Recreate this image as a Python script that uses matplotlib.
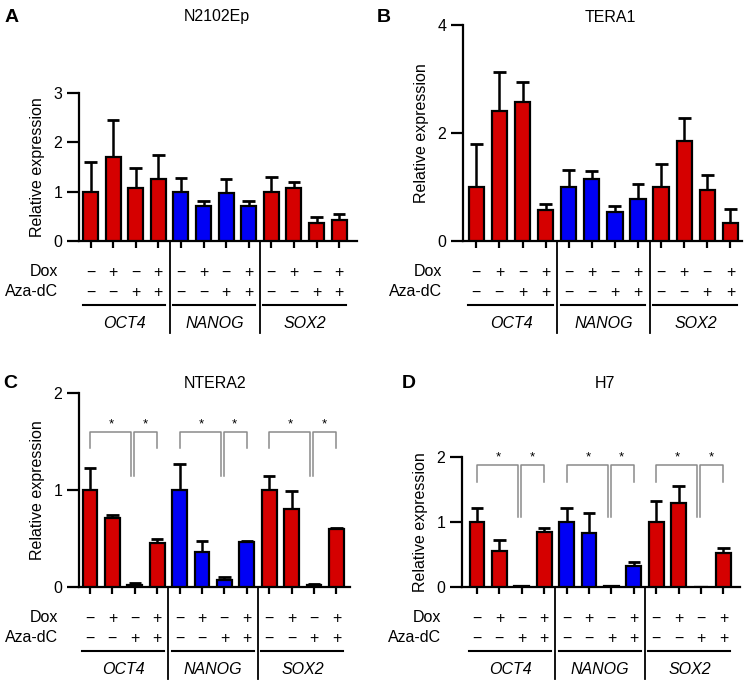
import matplotlib
matplotlib.use("Agg")
import matplotlib.pyplot as plt
from matplotlib.transforms import blended_transform_factory

plt.rcParams['font.family'] = ['Liberation Sans', 'DejaVu Sans']

W, H = 744, 680

# ---- data ----
genes = ["OCT4", "NANOG", "SOX2"]
dox_signs = ["\u2212", "+", "\u2212", "+"]
aza_signs = ["\u2212", "\u2212", "+", "+"]

a_mean = [1.0, 1.71, 1.07, 1.25, 1.0, 0.70, 0.97, 0.70, 1.0, 1.07, 0.37, 0.42]
a_err = [0.60, 0.74, 0.40, 0.49, 0.27, 0.12, 0.28, 0.12, 0.29, 0.13, 0.11, 0.13]

b_mean = [1.0, 2.40, 2.58, 0.57, 1.0, 1.14, 0.53, 0.77, 1.0, 1.85, 0.95, 0.33]
b_err = [0.79, 0.73, 0.37, 0.11, 0.31, 0.16, 0.12, 0.28, 0.43, 0.42, 0.28, 0.26]

c_mean = [1.0, 0.71, 0.025, 0.45, 1.0, 0.36, 0.075, 0.46, 1.0, 0.80, 0.02, 0.60]
c_err = [0.23, 0.03, 0.015, 0.04, 0.27, 0.11, 0.025, 0.01, 0.14, 0.19, 0.015, 0.01]

d_mean = [1.0, 0.56, 0.01, 0.84, 1.0, 0.83, 0.015, 0.32, 1.0, 1.29, 0.004, 0.53]
d_err = [0.22, 0.17, 0.0, 0.07, 0.22, 0.31, 0.005, 0.06, 0.32, 0.27, 0.0, 0.07]

RED = "#d50000"
BLUE = "#0000f5"
GRAY = "#8a8a8a"
gene_colors = [RED, BLUE, RED]

# panel layout in pixels: left, top, right, bottom, first bar centre, bar spacing
panels = [
    dict(tag="A", title="N2102Ep", mean=a_mean, err=a_err, ymax=3, yticks=[0, 1, 2, 3],
         box=(79, 93, 357, 241), c0=90.5, sp=22.6, label_xy=(5, 17), title_xy=(217, 17), brackets=None),
    dict(tag="B", title="TERA1", mean=b_mean, err=b_err, ymax=4, yticks=[0, 2, 4],
         box=(463, 25, 742, 241), c0=476.3, sp=23.1, label_xy=(377, 17), title_xy=(610, 17), brackets=None),
    dict(tag="C", title="NTERA2", mean=c_mean, err=c_err, ymax=2, yticks=[0, 1, 2],
         box=(79, 393, 350, 587), c0=90, sp=22.4, label_xy=(3, 383), title_xy=(215, 383),
         brackets=(1.60, 1.43, 1.14, 1.68)),
    dict(tag="D", title="H7", mean=d_mean, err=d_err, ymax=2, yticks=[0, 1, 2],
         box=(462, 457, 740, 587), c0=477, sp=22.4, label_xy=(402, 383), title_xy=(605, 383),
         brackets=(1.87, 1.62, 1.07, 2.0)),
]

fig = plt.figure(figsize=(W / 100, H / 100), dpi=100)
FS = 11.5


def fy(py):
    return 1 - py / H


for p in panels:
    left, top, right, bottom = p["box"]
    ax = fig.add_axes([left / W, fy(bottom), (right - left) / W, (bottom - top) / H])
    n = len(p["mean"])
    x = list(range(n))
    colors = [gene_colors[i // 4] for i in x]

    ax.bar(x, p["mean"], width=0.66, color=colors, edgecolor="black", linewidth=1.6, zorder=3)
    tops = [m + e for m, e in zip(p["mean"], p["err"])]
    ax.vlines(x, p["mean"], tops, color="black", linewidth=1.8, zorder=2)
    ax.hlines(tops, [i - 0.28 for i in x], [i + 0.28 for i in x], color="black", linewidth=2.0, zorder=2)

    ax.set_xlim((left - p["c0"]) / p["sp"], (right - p["c0"]) / p["sp"])
    ax.set_ylim(0, p["ymax"])
    ax.set_yticks(p["yticks"])
    ax.set_xticks(x)
    ax.set_xticklabels([])
    for s in ["top", "right"]:
        ax.spines[s].set_visible(False)
    for s in ["left", "bottom"]:
        ax.spines[s].set_linewidth(1.6)
    ax.tick_params(axis="y", length=8.6, width=1.6, labelsize=FS, pad=3.5)
    ax.tick_params(axis="x", length=5, width=1.6)
    ax.set_ylabel("Relative expression", fontsize=FS, labelpad=6)

    # condition rows below the axis
    tr = blended_transform_factory(ax.transData, fig.transFigure)
    for i in x:
        ax.text(i, fy(bottom + 31), dox_signs[i % 4], transform=tr, ha="center", va="center",
                fontsize=FS, clip_on=False)
        ax.text(i, fy(bottom + 51), aza_signs[i % 4], transform=tr, ha="center", va="center",
                fontsize=FS, clip_on=False)
    fig.text((left - 21) / W, fy(bottom + 31), "Dox", ha="right", va="center", fontsize=FS)
    fig.text((left - 21) / W, fy(bottom + 51), "Aza-dC", ha="right", va="center", fontsize=FS)
    for g, name in enumerate(genes):
        ax.plot([4 * g - 0.35, 4 * g + 3.3], [fy(bottom + 64)] * 2, transform=tr,
                color="black", linewidth=1.5, clip_on=False)
        ax.text(4 * g + 1.5, fy(bottom + 82), name, transform=tr, ha="center", va="center",
                fontsize=FS, style="italic", clip_on=False)
    for xs in [3.5, 7.5]:
        ax.plot([xs, xs], [fy(bottom), fy(bottom + 92)], transform=tr, color="black",
                linewidth=1.3, clip_on=False)

    # significance brackets
    if p["brackets"]:
        h, leg, low, star = p["brackets"]
        for g in range(3):
            a0, mid, a3 = 4 * g, 4 * g + 2 - 0.1, 4 * g + 3
            xl, xr = mid - 0.065, mid + 0.065
            ax.plot([a0, a0, xl, xl], [leg, h, h, low], color=GRAY, linewidth=1.1,
                    clip_on=False, zorder=4)
            ax.plot([xr, xr, a3, a3], [low, h, h, leg], color=GRAY, linewidth=1.1,
                    clip_on=False, zorder=4)
            for sx in [(a0 + mid) / 2, (mid + a3) / 2]:
                ax.text(sx, star, "*", ha="center", va="center", fontsize=9.5, clip_on=False)

    fig.text(p["label_xy"][0] / W, fy(p["label_xy"][1]), p["tag"], ha="left", va="center",
             fontsize=14, fontweight="bold")
    fig.text(p["title_xy"][0] / W, fy(p["title_xy"][1]), p["title"], ha="center", va="center",
             fontsize=FS)

fig.savefig("out.png", dpi=100)
